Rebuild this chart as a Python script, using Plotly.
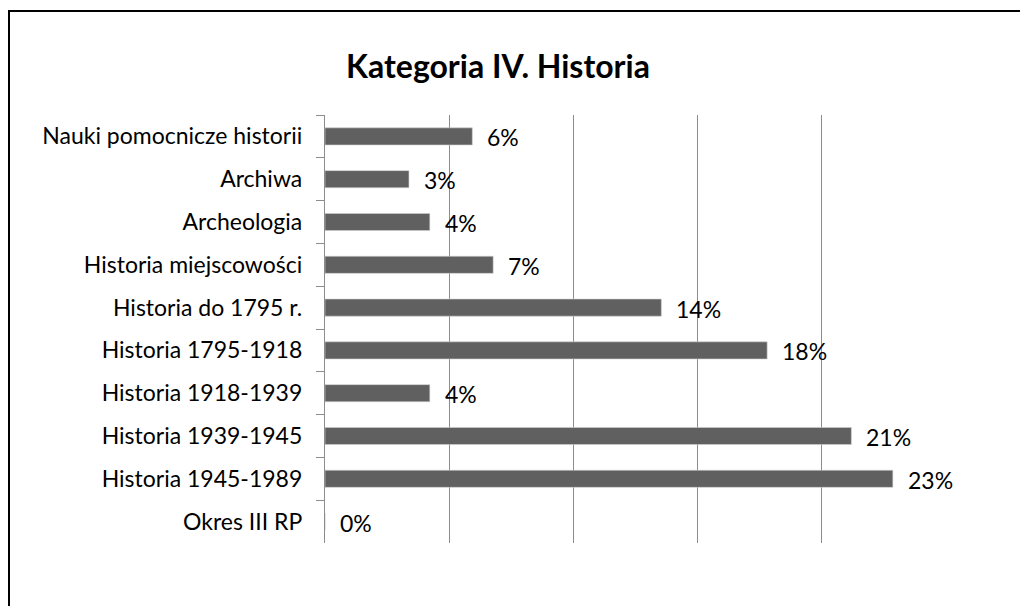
import plotly.graph_objects as go

categories = [
    "Nauki pomocnicze historii",
    "Archiwa",
    "Archeologia",
    "Historia miejscowości",
    "Historia do 1795 r.",
    "Historia 1795-1918",
    "Historia 1918-1939",
    "Historia 1939-1945",
    "Historia 1945-1989",
    "Okres III RP",
]
values = [5.93, 3.38, 4.22, 6.77, 13.54, 17.8, 4.22, 21.19, 22.86, 0.0]
labels = ["6%", "3%", "4%", "7%", "14%", "18%", "4%", "21%", "23%", "0%"]

FONT = "Lato, Carlito, Calibri, sans-serif"

fig = go.Figure()
fig.add_trace(go.Bar(
    y=categories,
    x=values,
    orientation="h",
    marker=dict(color="#606060", line=dict(color="#d0d0d0", width=0.6)),
    width=0.4,
    hoverinfo="skip",
))

for c, v, t in zip(categories, values, labels):
    fig.add_annotation(
        x=v, y=c, xref="x", yref="y", text=t, showarrow=False,
        xanchor="left", yanchor="middle", xshift=13, yshift=-1,
        font=dict(family=FONT, size=23, color="#000000"),
    )

# page has an 8px body margin, so the figure is 8px smaller than the window
W, H = 1020, 598
ml, mr, mt, mb = 317, 82, 107, 63
pw, ph = W - ml - mr, H - mt - mb

def px_to_paper_x(px):
    return (px - ml) / pw

def px_to_paper_y(py):
    return 1 + (mt - py) / ph

fig.add_shape(
    type="rect", xref="paper", yref="paper",
    x0=px_to_paper_x(1), x1=px_to_paper_x(1040),
    y0=px_to_paper_y(620), y1=px_to_paper_y(3),
    line=dict(color="#000000", width=2), fillcolor="rgba(0,0,0,0)",
    layer="above",
)

fig.update_layout(
    width=W, height=H,
    margin=dict(l=ml, r=mr, t=mt, b=mb),
    paper_bgcolor="white", plot_bgcolor="white",
    showlegend=False,
    title=dict(
        text="<b>Kategoria IV. Historia</b>",
        x=490 / W, xanchor="center", y=1 - 59 / H, yanchor="middle",
        font=dict(family=FONT, size=32, color="#000000"),
    ),
    xaxis=dict(
        range=[0, 25], dtick=5, showticklabels=False, ticks="",
        showgrid=True, gridcolor="#8c8c8c", gridwidth=1.3,
        zeroline=False, showline=False,
    ),
    yaxis=dict(
        autorange="reversed", showline=True, linecolor="#8c8c8c", linewidth=1.3,
        ticks="outside", tickson="boundaries", ticklen=8, tickcolor="#8c8c8c",
        tickwidth=1.3, showgrid=False, ticklabelstandoff=17,
        tickfont=dict(family=FONT, size=23, color="#000000"),
    ),
    bargap=0.6,
)

fig.write_html("out.html")
